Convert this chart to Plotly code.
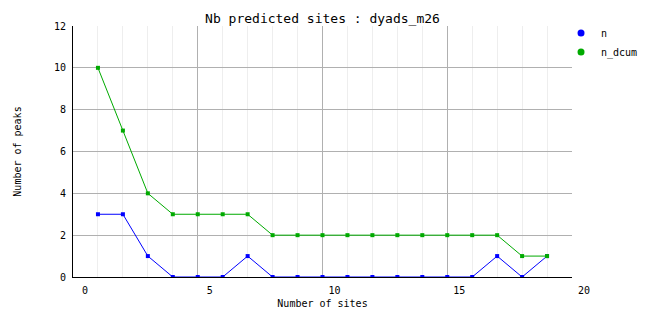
import plotly.graph_objects as go

sites = list(range(1, 20))
n = [3, 3, 1, 0, 0, 0, 1, 0, 0, 0, 0, 0, 0, 0, 0, 0, 1, 0, 1]
n_dcum = [10, 7, 4, 3, 3, 3, 3, 2, 2, 2, 2, 2, 2, 2, 2, 2, 2, 1, 1]
series_names = ["n", "n_dcum"]
colors = ["#0000ff", "#00aa00"]

FONT = "DejaVu Sans Mono"

fig = go.Figure()
for name, vals, col in zip(series_names, [n, n_dcum], colors):
    fig.add_trace(go.Scatter(
        x=sites, y=vals, mode="lines+markers", name=name,
        line=dict(color=col, width=1),
        marker=dict(color=col, size=4, symbol="square"),
        showlegend=False,
    ))
for name, col in zip(series_names, colors):
    fig.add_trace(go.Scatter(
        x=[None], y=[None], mode="markers", name=name,
        marker=dict(color=col, size=7, symbol="circle"),
    ))

fig.update_layout(
    width=662, height=328,
    margin=dict(l=73, r=90, t=26, b=51, autoexpand=False),
    paper_bgcolor="white", plot_bgcolor="white",
    font=dict(family=FONT, size=10, color="black"),
    title=dict(text="Nb predicted sites : dyads_m26", x=0.5, xref="paper",
               xanchor="center", y=1 - 18 / 328, yanchor="middle",
               font=dict(family=FONT, size=13, color="black")),
    legend=dict(x=0.978, y=1.03, xanchor="left", yanchor="top",
                font=dict(family=FONT, size=10), bgcolor="rgba(0,0,0,0)",
                itemwidth=30, tracegroupgap=0),
    xaxis=dict(range=[0, 20], dtick=5, tick0=0, showgrid=True,
               gridcolor="#b0b0b0", gridwidth=1,
               minor=dict(dtick=1, showgrid=True, gridcolor="#eeeeee", gridwidth=1),
               showline=True, linecolor="black", linewidth=1,
               zeroline=False, ticks="", ticklabelshift=12, ticklabelstandoff=4,
               title=dict(text="Number of sites", standoff=4,
                          font=dict(family=FONT, size=10))),
    yaxis=dict(range=[0, 12], dtick=2, tick0=0, showgrid=True,
               gridcolor="#b0b0b0", gridwidth=1,
               showline=True, linecolor="black", linewidth=1,
               zeroline=False, ticks="", ticklabelstandoff=4,
               title=dict(text="Number of peaks", standoff=30,
                          font=dict(family=FONT, size=10))),
)

fig.write_html("out.html")
